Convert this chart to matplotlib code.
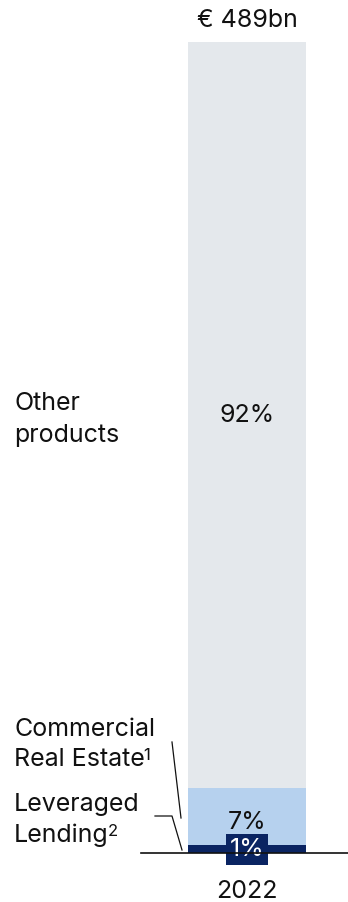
import matplotlib
matplotlib.use("Agg")
import matplotlib.pyplot as plt

plt.rcParams['font.family'] = ['Inter', 'DejaVu Sans']

# Data
categories = ["2022"]
segment_names = [("Leveraged", "Lending", "2"),
                 ("Commercial", "Real Estate", "1"),
                 ("Other", "products", None)]
shares = [1, 7, 92]
total_label = "€ 489bn"
colors = ["#0a2462", "#b6d1ee", "#e4e8ec"]

W, H = 348, 902
fig = plt.figure(figsize=(W / 100, H / 100), dpi=100)
ax = fig.add_axes([0, 0, 1, 1])

# Scale: bar spans pixels 188-306 horizontally, 0% at y=853 px, 100% at y=42 px
px_per_unit = 811 / 100
ax.set_ylim(-(H - 853) / px_per_unit, 100 + 42 / px_per_unit)
ax.set_xlim(-247 / 118, (W - 247) / 118)
ax.axis("off")

def fx(px):
    return px / W

def fy(py):
    return 1 - py / H

bottom = 0
for val, col in zip(shares, colors):
    ax.bar(0, val, width=1.0, bottom=bottom, color=col, linewidth=0)
    bottom += val

fs = 18
sup_fs = 12
txt = "#111111"

# Segment value labels
ax.text(0, shares[0] + shares[1] / 2 - 0.7, f"{shares[1]}%", ha="center", va="center",
        fontsize=fs, color=txt)
ax.text(0, shares[0] + shares[1] + shares[2] / 2, f"{shares[2]}%", ha="center", va="center",
        fontsize=fs, color=txt)
ax.text(0, 0.45, f"{shares[0]}%", ha="center", va="center", fontsize=fs, color="white",
        bbox=dict(boxstyle="square,pad=0.16", fc=colors[0], ec="none"))

# Total above the bar and category below
ax.text(0, 100 + 2.6, total_label, ha="center", va="center", fontsize=fs, color=txt)
fig.text(fx(247), fy(891), categories[0], ha="center", va="center", fontsize=fs, color=txt)

# Baseline
fig.add_artist(plt.Line2D([fx(141), fx(348)], [fy(853), fy(853)], color=txt, lw=1.2))

# Segment names on the left, one text per line, with optional footnote marks
renderer = fig.canvas.get_renderer()
name_baselines = [(811, 842), (736, 766), (410, 442)]
for (l1, l2, sup), (b1, b2) in zip(segment_names, name_baselines):
    fig.text(fx(14), fy(b1), l1, ha="left", va="baseline", fontsize=fs, color=txt)
    t2 = fig.text(fx(14), fy(b2), l2, ha="left", va="baseline", fontsize=fs, color=txt)
    if sup:
        ext = t2.get_window_extent(renderer)
        fig.text(fx(ext.x1 / fig.dpi * 100 - 1), fy(b2 - 18), sup, ha="left",
                 va="top", fontsize=sup_fs, color=txt)

# Leader lines
fig.add_artist(plt.Line2D([fx(172), fx(181)], [fy(742), fy(818)], color=txt, lw=0.9))
fig.add_artist(plt.Line2D([fx(155), fx(172), fx(182)], [fy(816), fy(816), fy(850)],
                          color=txt, lw=0.9))

fig.savefig("out.png", dpi=100)
